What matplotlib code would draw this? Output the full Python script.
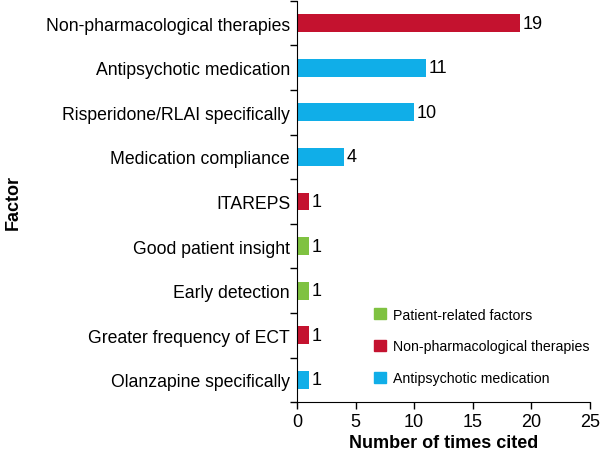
import matplotlib.pyplot as plt
from matplotlib.patches import Patch

plt.rcParams['font.family'] = ['Liberation Sans', 'DejaVu Sans']

# данные (снизу вверх)
factors = ["Olanzapine specifically", "Greater frequency of ECT", "Early detection",
           "Good patient insight", "ITAREPS", "Medication compliance",
           "Risperidone/RLAI specifically", "Antipsychotic medication",
           "Non-pharmacological therapies"]
counts = [1, 1, 1, 1, 1, 4, 10, 11, 19]
groups = ["anti", "nonpharm", "patient", "patient", "nonpharm", "anti",
          "anti", "anti", "nonpharm"]

group_names = ["Patient-related factors", "Non-pharmacological therapies",
               "Antipsychotic medication"]
group_keys = ["patient", "nonpharm", "anti"]
colors = {"patient": "#7fc241", "nonpharm": "#c4122f", "anti": "#10aee8"}

fig = plt.figure(figsize=(6, 4.52), dpi=100)
ax = fig.add_axes([0.495, 0.108, 0.488, 0.888])

y = range(len(factors))
ax.barh(y, counts, height=0.4, color=[colors[g] for g in groups])
for i, c in enumerate(counts):
    ax.text(c + 0.25, i, str(c), va='center', ha='left', fontsize=13)

ax.set_xlim(0, 25)
ax.set_ylim(-0.5, len(factors) - 0.5)
ax.set_xticks([0, 5, 10, 15, 20, 25])
ax.set_yticks(list(y))
ax.set_yticklabels(factors, fontsize=12.7)
ax.set_yticks([i - 0.5 for i in range(len(factors) + 1)], minor=True)
ax.tick_params(axis='y', which='major', length=0, pad=5)
ax.tick_params(axis='y', which='minor', length=5, width=1)
ax.tick_params(axis='x', labelsize=13, length=5, width=1, pad=3)

ax.spines['top'].set_visible(False)
ax.spines['right'].set_visible(False)

ax.set_xlabel("Number of times cited", fontsize=13, fontweight='bold', labelpad=3)
ax.set_ylabel("Factor", fontsize=13, fontweight='bold')
ax.yaxis.set_label_coords(-0.94, 0.5)

handles = [Patch(color=colors[k]) for k in group_keys]
ax.legend(handles, group_names, loc='lower left', bbox_to_anchor=(0.24, 0.025),
          frameon=False, fontsize=10.2, handlelength=0.85, handleheight=0.85,
          labelspacing=1.25, handletextpad=0.45, borderpad=0)

fig.savefig("out.png", dpi=100)
